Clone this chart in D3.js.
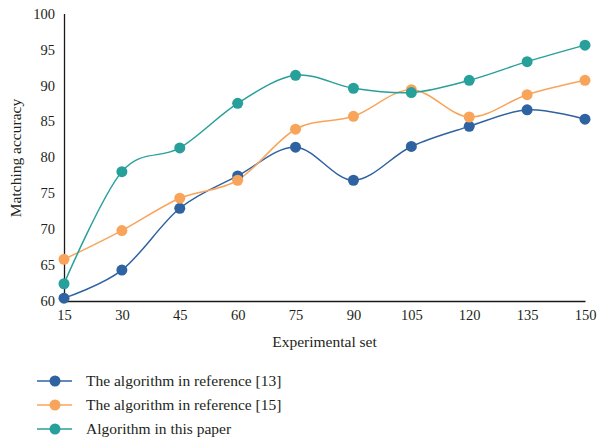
<!DOCTYPE html>
<html>
<head>
<meta charset="utf-8">
<script src="https://cdn.jsdelivr.net/npm/d3@7"></script>
<style>
  html, body { margin: 0; padding: 0; background: #ffffff; }
  svg { display: block; }
  text { font-family: "Liberation Serif", "DejaVu Serif", serif; fill: #231f20; }
</style>
</head>
<body>
<div id="chart"></div>
<script>
const categories = [15, 30, 45, 60, 75, 90, 105, 120, 135, 150];
const seriesNames = ["The algorithm in reference [13]", "The algorithm in reference [15]", "Algorithm in this paper"];
const ref13 = [60.4, 64.3, 72.9, 77.4, 81.4, 76.8, 81.5, 84.3, 86.6, 85.3];
const ref15 = [65.8, 69.8, 74.3, 76.8, 83.9, 85.7, 89.4, 85.6, 88.7, 90.7];
const thisPaper = [62.4, 78.0, 81.3, 87.5, 91.4, 89.6, 89.0, 90.7, 93.3, 95.6];
const yTicks = [60, 65, 70, 75, 80, 85, 90, 95, 100];
const colors = ["#2f62a0", "#f8a55b", "#27a09b"];

const W = 597, H = 441;
const svg = d3.select("#chart").append("svg").attr("width", W).attr("height", H);

const x = d3.scaleLinear().domain([15, 150]).range([64, 585]);
const y = d3.scaleLinear().domain([60, 100]).range([301, 13.5]);

// axes
const xAxis = d3.axisBottom(x).tickValues(categories).tickSize(0).tickPadding(9);
const gx = svg.append("g").attr("transform", `translate(0,${y(60)})`).call(xAxis);
gx.select(".domain").attr("stroke", "#1a1a1a").attr("stroke-width", 1.3);
gx.selectAll("text").attr("font-size", 14.5).style("font-family", '"Liberation Serif", serif').attr("fill", "#231f20");

const yAxis = d3.axisLeft(y).tickValues(yTicks).tickSize(0).tickPadding(9);
const gy = svg.append("g").attr("transform", `translate(${x(15)},0)`).call(yAxis);
gy.select(".domain").attr("stroke", "#1a1a1a").attr("stroke-width", 1.3);
gy.selectAll("text").attr("font-size", 14.5).style("font-family", '"Liberation Serif", serif').attr("fill", "#231f20");

// axis titles
svg.append("text").attr("x", 324.5).attr("y", 347).attr("text-anchor", "middle")
  .attr("font-size", 15.5).text("Experimental set");
svg.append("text").attr("transform", "translate(21,158) rotate(-90)").attr("text-anchor", "middle")
  .attr("font-size", 15.5).text("Matching accuracy");

const allSeries = [ref13, ref15, thisPaper];
const line = d3.line().x((d, i) => x(categories[i])).y(d => y(d)).curve(d3.curveCardinal.tension(0));

allSeries.forEach((vals, k) => {
  svg.append("path").datum(vals).attr("d", line)
    .attr("fill", "none").attr("stroke", colors[k]).attr("stroke-width", 1.5);
});
allSeries.forEach((vals, k) => {
  svg.append("g").selectAll("circle").data(vals).join("circle")
    .attr("cx", (d, i) => x(categories[i])).attr("cy", d => y(d)).attr("r", 5.5)
    .attr("fill", colors[k]);
});

// legend
const legendY = [381, 405, 429];
seriesNames.forEach((name, k) => {
  const g = svg.append("g").attr("transform", `translate(0,${legendY[k]})`);
  g.append("line").attr("x1", 37).attr("x2", 72).attr("y1", 0).attr("y2", 0)
    .attr("stroke", colors[k]).attr("stroke-width", 1.5);
  g.append("circle").attr("cx", 55).attr("cy", 0).attr("r", 5.5).attr("fill", colors[k]);
  g.append("text").attr("x", 86).attr("y", 5).attr("font-size", 15.5).text(name);
});
</script>
</body>
</html>
